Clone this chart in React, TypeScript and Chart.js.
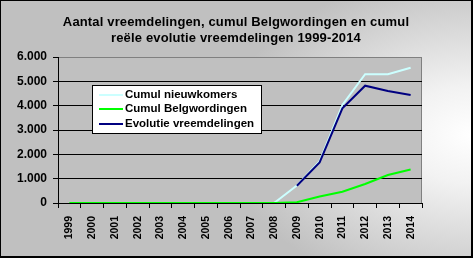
import { useEffect, useRef } from "react";
import { Chart, registerables } from "chart.js";

Chart.register(...registerables);

const YEARS = ["1999", "2000", "2001", "2002", "2003", "2004", "2005", "2006", "2007", "2008", "2009", "2010", "2011", "2012", "2013", "2014"];
const CUMUL_NIEUWKOMERS = [null, null, null, null, null, null, null, null, null, 0, 720, 1720, 4030, 5290, 5290, 5560];
const CUMUL_BELGWORDINGEN = [0, 0, 0, 0, 0, 0, 0, 0, 0, 0, 30, 270, 460, 780, 1150, 1380];
const EVOLUTIE_VREEMDELINGEN = [null, null, null, null, null, null, null, null, null, null, 711, 1670, 3890, 4820, 4600, 4440];
const SERIES_LABELS = ["Cumul nieuwkomers", "Cumul Belgwordingen", "Evolutie vreemdelingen"];
const SERIES_COLORS = ["#ccffff", "#00ff00", "#000080"];
const TITLE_LINES = ["Aantal vreemdelingen, cumul Belgwordingen en cumul", "reële evolutie vreemdelingen 1999-2014"];
const Y_MIN = 0;
const Y_MAX = 6000;
const Y_STEP = 1000;

const FONT = "'Liberation Sans', Arial, sans-serif";

function fmt(v: number): string {
  return String(Math.round(v)).replace(/\B(?=(\d{3})+(?!\d))/g, ".");
}

const backgroundPlugin = {
  id: "bgPlugin",
  beforeDraw(chart: any) {
    const { ctx, width, height, chartArea } = chart;
    ctx.save();
    ctx.fillStyle = "#c0c0c0";
    ctx.fillRect(0, 0, width, height);
    ctx.save();
    ctx.translate(473, 135);
    ctx.scale(1, 0.65);
    const g = ctx.createRadialGradient(0, 0, 0, 0, 0, 250);
    g.addColorStop(0, "#ffffff");
    g.addColorStop(0.3, "#f2f2f2");
    g.addColorStop(1, "#c0c0c0");
    ctx.fillStyle = g;
    ctx.fillRect(-480, -300, 500, 600);
    ctx.restore();
    ctx.fillStyle = "#c0c0c0";
    ctx.fillRect(chartArea.left, chartArea.top, chartArea.right - chartArea.left, chartArea.bottom - chartArea.top);
    ctx.strokeStyle = "#808080";
    ctx.lineWidth = 1;
    ctx.beginPath();
    ctx.moveTo(Math.round(chartArea.right) - 0.5, chartArea.top);
    ctx.lineTo(Math.round(chartArea.right) - 0.5, chartArea.bottom);
    ctx.stroke();
    ctx.restore();
  },
  afterDraw(chart: any) {
    const { ctx, width, height } = chart;
    ctx.save();
    // title
    ctx.fillStyle = "#000";
    ctx.font = `bold 13px ${FONT}`;
    ctx.textAlign = "center";
    ctx.textBaseline = "alphabetic";
    try { (ctx as any).letterSpacing = "0.15px"; } catch (e) {}
    ctx.fillText(TITLE_LINES[0], 236, 26);
    ctx.fillText(TITLE_LINES[1], 236, 42);
    try { (ctx as any).letterSpacing = "0px"; } catch (e) {}
    // legend
    const lx = 92, ly = 85, lw = 170, lh = 49;
    ctx.fillStyle = "#ffffff";
    ctx.fillRect(lx, ly, lw, lh);
    ctx.strokeStyle = "#000";
    ctx.lineWidth = 1;
    ctx.strokeRect(lx + 0.5, ly + 0.5, lw - 1, lh - 1);
    ctx.font = `bold 11.5px ${FONT}`;
    ctx.textAlign = "left";
    ctx.textBaseline = "middle";
    SERIES_LABELS.forEach((lab, i) => {
      const y = ly + 9.5 + i * 14.5;
      ctx.strokeStyle = SERIES_COLORS[i];
      ctx.lineWidth = 2;
      ctx.beginPath();
      ctx.moveTo(99, Math.round(y));
      ctx.lineTo(123, Math.round(y));
      ctx.stroke();
      ctx.fillStyle = "#000";
      ctx.fillText(lab, 125, y);
    });
    // outer frame
    ctx.fillStyle = "#000";
    ctx.fillRect(0, 0, width, 1);
    ctx.fillRect(0, 0, 1, height);
    ctx.fillRect(width - 2, 0, 2, height);
    ctx.fillRect(0, height - 2, width, 2);
    ctx.restore();
  },
};

export default function App() {
  const ref = useRef<HTMLCanvasElement | null>(null);
  useEffect(() => {
    document.body.style.margin = "0";
    if (!ref.current) return;
    const chart = new Chart(ref.current, {
      type: "line",
      data: {
        labels: YEARS,
        datasets: [
          { label: SERIES_LABELS[0], data: CUMUL_NIEUWKOMERS as any, borderColor: SERIES_COLORS[0], borderWidth: 2, pointRadius: 0, tension: 0, order: 2, spanGaps: false },
          { label: SERIES_LABELS[1], data: CUMUL_BELGWORDINGEN, borderColor: SERIES_COLORS[1], borderWidth: 2, pointRadius: 0, tension: 0, order: 1 },
          { label: SERIES_LABELS[2], data: EVOLUTIE_VREEMDELINGEN as any, borderColor: SERIES_COLORS[2], borderWidth: 2, pointRadius: 0, tension: 0, order: 0 },
        ],
      },
      options: {
        responsive: false,
        animation: false,
        layout: { padding: { left: 0, right: 51, top: 57, bottom: 0 } },
        plugins: { legend: { display: false }, title: { display: false }, tooltip: { enabled: false } },
        scales: {
          x: {
            offset: true,
            grid: { offset: true, drawOnChartArea: false, drawTicks: true, tickLength: 5, color: "#000", lineWidth: 1 },
            border: { color: "#000", width: 1 },
            ticks: { minRotation: 90, maxRotation: 90, autoSkip: false, padding: 8, color: "#000", font: { family: FONT, size: 10.5, weight: "bold" } },
            afterFit: (s: any) => { s.height = 55; },
          },
          y: {
            min: Y_MIN,
            max: Y_MAX,
            grid: {
              color: (c: any) => (c.tick && c.tick.value === Y_MAX ? "#808080" : "#000"),
              tickColor: "#000",
              tickLength: 5,
              lineWidth: 1,
            },
            border: { color: "#000", width: 1 },
            ticks: { stepSize: Y_STEP, padding: 6, color: "#000", font: { family: FONT, size: 12, weight: "bold" }, callback: (v: any) => fmt(Number(v)) },
            afterFit: (s: any) => { s.width = 58; },
          },
        },
      },
      plugins: [backgroundPlugin],
    });
    return () => chart.destroy();
  }, []);
  return (
    <div style={{ width: 473, height: 258 }}>
      <canvas ref={ref} width={473} height={258} style={{ display: "block" }} />
    </div>
  );
}
